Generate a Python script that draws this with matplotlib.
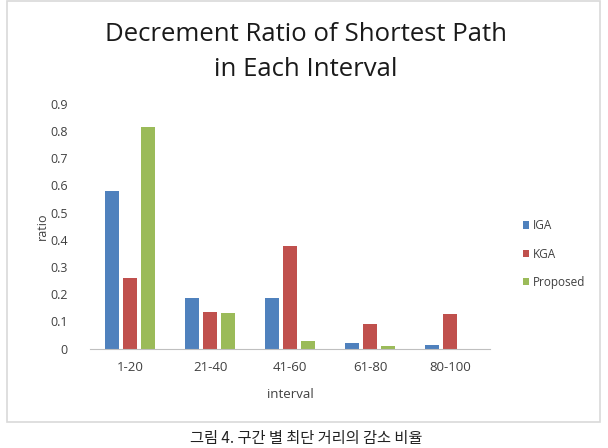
import matplotlib
matplotlib.use("Agg")
import matplotlib.pyplot as plt
import numpy as np
from matplotlib.patches import Rectangle

categories = ["1-20", "21-40", "41-60", "61-80", "80-100"]
iga = [0.58, 0.185, 0.185, 0.019, 0.012]
kga = [0.258, 0.135, 0.378, 0.089, 0.126]
proposed = [0.815, 0.13, 0.029, 0.008, 0.0]
series_names = ["IGA", "KGA", "Proposed"]
colors = ["#4F81BD", "#C0504D", "#9BBB59"]
yticks = [0, 0.1, 0.2, 0.3, 0.4, 0.5, 0.6, 0.7, 0.8, 0.9]
ytick_labels = ["0", "0.1", "0.2", "0.3", "0.4", "0.5", "0.6", "0.7", "0.8", "0.9"]

W, H = 608, 448
fig = plt.figure(figsize=(W / 100, H / 100), dpi=100)
fig.patch.set_facecolor("white")

# outer chart border
fig.patches.append(Rectangle((7 / W, (H - 422) / H), (600 - 7) / W, (421) / H,
                             transform=fig.transFigure, fill=False,
                             edgecolor="#D9D9D9", linewidth=1.2))

ax = fig.add_axes([90 / W, (H - 348.5) / H, 400 / W, (348.5 - 104) / H])
x = np.arange(len(categories))
bw = 0.175
step = 0.225
for i, (vals, name, c) in enumerate(zip([iga, kga, proposed], series_names, colors)):
    ax.bar(x + (i - 1) * step, vals, width=bw, color=c, label=name)

ax.set_xlim(-0.5, len(categories) - 0.5)
ax.set_ylim(0, 0.9)
ax.set_yticks(yticks)
ax.set_yticklabels(ytick_labels)
ax.set_xticks(x)
ax.set_xticklabels(categories)
for s in ["top", "right", "left"]:
    ax.spines[s].set_visible(False)
ax.spines["bottom"].set_color("#BFBFBF")
ax.tick_params(axis="both", length=0, colors="#404040")
ax.tick_params(axis="y", pad=16, labelsize=9)
ax.tick_params(axis="x", pad=9, labelsize=9.5)
for lab in ax.get_xticklabels() + ax.get_yticklabels():
    lab.set_fontfamily("Open Sans")
ax.set_xlabel("interval", fontsize=9.5, color="#404040", family="Open Sans", labelpad=10)
ax.set_ylabel("ratio", fontsize=9, color="#404040", family="Open Sans", labelpad=1)

fig.text(306 / W, 1 - 52 / H, "Decrement Ratio of Shortest Path\nin Each Interval",
         ha="center", va="center", fontsize=18.5, family="Open Sans",
         color="#1A1A1A", linespacing=1.55)

leg = fig.legend(loc="center left", bbox_to_anchor=(512 / W, 1 - 254 / H),
                 frameon=False, handlelength=0.55, handleheight=0.55,
                 handletextpad=0.35, labelspacing=1.3,
                 prop={"family": "Open Sans", "size": 8.5})
for t in leg.get_texts():
    t.set_color("#404040")

fig.text(306 / W, (H - 446.5) / H, "그림 4. 구간 별 최단 거리의 감소 비율",
         ha="center", va="bottom", fontsize=11,
         family=["Noto Sans CJK KR", "DejaVu Sans"], color="#222222")

fig.savefig("out.png", dpi=100)
